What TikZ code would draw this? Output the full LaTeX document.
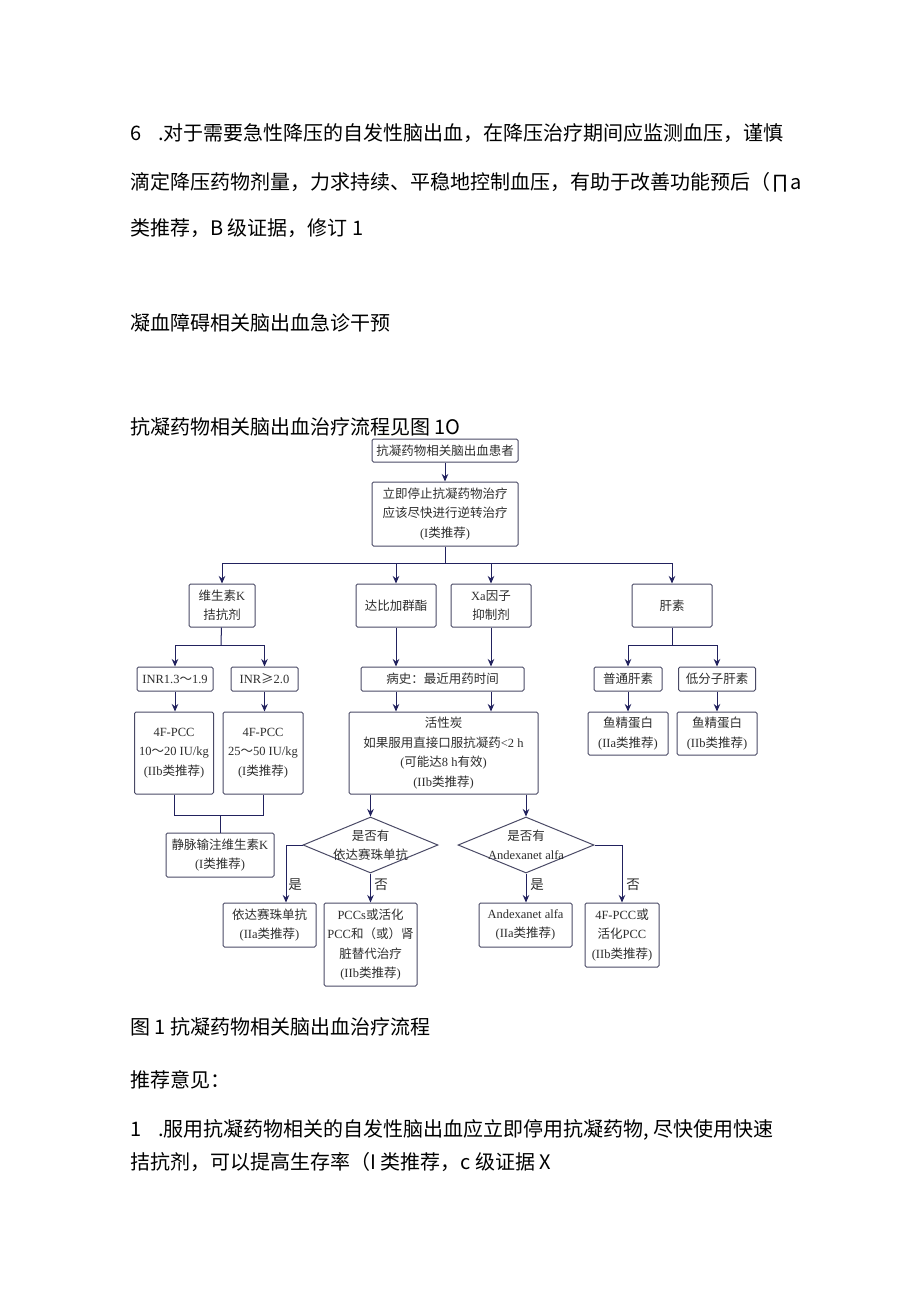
\documentclass[tikz,border=0pt]{standalone}
\usepackage{fontspec}
\usepackage{tikz}
\usetikzlibrary{shapes.geometric,arrows.meta,positioning,calc}
\setmainfont{Liberation Serif}
\newfontfamily\cjk{Noto Sans CJK SC}
\newfontfamily\latnfont{Liberation Serif}
\newcommand{\latn}[1]{{\latnfont #1}}
\definecolor{boxline}{HTML}{4A4A66}
\definecolor{flowline}{HTML}{22225E}
\definecolor{boxtext}{HTML}{2E2E2E}
\tikzset{flow box/.style={rectangle,draw=boxline,line width=1pt,rounded corners=1.5pt,inner sep=0pt,
                          align=center,text=boxtext,font=\fontsize{12.5}{19.5}\selectfont\cjk},
         flow dia/.style={diamond,draw=boxline,line width=1pt,inner sep=0pt},
         dia text/.style={inner sep=0pt,align=center,text=boxtext,font=\fontsize{12.5}{19}\selectfont\cjk},
         yes no/.style={inner sep=0pt,text=boxtext,font=\fontsize{13.5}{15}\selectfont\cjk},
         body text/.style={anchor=west,inner sep=0pt,font=\fontsize{20}{24}\selectfont\cjk},
         link/.style={draw=flowline,line width=1pt},
}

\begin{document}
\begin{tikzpicture}[x=1pt,y=-1pt,
>={Stealth[length=7.5pt,width=6.5pt]}]

\fill[white] (0,0) rectangle (920,1301);
\useasboundingbox (0,0) rectangle (920,1301);

% text above the chart
\node[body text] (p1) at (130,133) {6\hspace{17pt}.对于需要急性降压的自发性脑出血，在降压治疗期间应监测血压，谨慎};
\node[body text] (p2) at (130,182) {滴定降压药物剂量，力求持续、平稳地控制血压，有助于改善功能预后（∏a};
\node[body text] (p3) at (130,228) {类推荐，B 级证据，修订 1};
\node[body text] (h1) at (130,323) {凝血障碍相关脑出血急诊干预};
\node[body text] (h2) at (130,427) {抗凝药物相关脑出血治疗流程见图 1O};

% chart, top part
\node[flow box,minimum width=146pt,minimum height=23pt] (b0) at (445,450.5) {抗凝药物相关脑出血患者};
\node[flow box,minimum width=146pt,minimum height=64pt] (b1) at (445,514)
    {立即停止抗凝药物治疗\\应该尽快进行逆转治疗\\\latn{(I}类推荐\latn{)}};

\node[flow box,minimum width=66pt,minimum height=43pt] (vk) at (222,605.5) {维生素\latn{K}\\拮抗剂};
\node[flow box,minimum width=80pt,minimum height=43pt] (dab) at (396,605.5) {达比加群酯};
\node[flow box,minimum width=80pt,minimum height=43pt] (xa) at (491,605.5) {\latn{Xa}因子\\抑制剂};
\node[flow box,minimum width=80pt,minimum height=43pt] (hep) at (672,605.5) {肝素};

\coordinate (split_top) at (445,563);
\draw[link,->] (b0) -- (b1);
\draw[link] (b1) -- (split_top);
\draw[link,->] (split_top) -| (vk);
\draw[link,->] (split_top) -| (dab);
\draw[link,->] (split_top) -| (xa);
\draw[link,->] (split_top) -| (hep);

% vitamin K antagonist branch
\node[flow box,minimum width=76pt,minimum height=24pt] (inr_l) at (175,679) {\latn{INR1.3}～\latn{1.9}};
\node[flow box,minimum width=67pt,minimum height=24pt] (inr_h) at (264.5,679) {\latn{INR}≥\latn{2.0}};
\node[flow box,minimum width=79pt,minimum height=82pt] (pcc_l) at (174,753)
    {\latn{4F-PCC}\\\latn{10}～\latn{20 IU/kg}\\\latn{(IIb}类推荐\latn{)}};
\node[flow box,minimum width=80pt,minimum height=82pt] (pcc_h) at (263,753)
    {\latn{4F-PCC}\\\latn{25}～\latn{50 IU/kg}\\\latn{(I}类推荐\latn{)}};
\node[flow box,minimum width=108pt,minimum height=44pt] (vk_iv) at (220,855)
    {静脉输注维生素\latn{K}\\\latn{(I}类推荐\latn{)}};

\coordinate (vk_split) at (221,645);
\coordinate (vk_join) at (220,815);
\draw[link] (vk) -- (vk_split);
\draw[link,->] (vk_split) -| (inr_l);
\draw[link,->] (vk_split) -| (inr_h);
\draw[link,->] (inr_l) -- (pcc_l.north -| inr_l);
\draw[link,->] (inr_h) -- (pcc_h.north -| inr_h);
\draw[link] (pcc_l) |- (vk_join);
\draw[link] (pcc_h) |- (vk_join);
\draw[link] (vk_join) -- (vk_iv);

% dabigatran / Xa branch
\node[flow box,minimum width=163pt,minimum height=24pt] (hist) at (442.5,679) {病史：最近用药时间};
\node[flow box,minimum width=189pt,minimum height=82pt] (act) at (443.5,753)
    {活性炭\\如果服用直接口服抗凝药\latn{<2 h}\\\latn{(}可能达\latn{8 h}有效\latn{)}\\\latn{(IIb}类推荐\latn{)}};

\draw[link,->] (dab) -- (dab |- hist.north);
\draw[link,->] (xa) -- (xa |- hist.north);
\draw[link,->] (dab |- hist.south) -- (dab |- act.north);
\draw[link,->] (xa |- hist.south) -- (xa |- act.north);

\node[flow dia,minimum width=135pt,minimum height=56pt] (dia_l) at (370.5,845) {};
\node[dia text] (dia_l_t) at (dia_l) {是否有\\依达赛珠单抗};
\node[flow dia,minimum width=136pt,minimum height=56pt] (dia_r) at (526,845) {};
\node[dia text] (dia_r_t) at (dia_r) {是否有\\\latn{Andexanet alfa}};

\draw[link,->] (act.south -| dia_l) -- (dia_l.north);
\draw[link,->] (act.south -| dia_r) -- (dia_r.north);

\node[flow box,minimum width=93pt,minimum height=44pt] (ida) at (269.5,925)
    {依达赛珠单抗\\\latn{(IIa}类推荐\latn{)}};
\node[flow box,minimum width=93pt,minimum height=83pt] (pcc_r) at (370.5,944.5)
    {\latn{PCCs}或活化\\\latn{PCC}和（或）肾\\脏替代治疗\\\latn{(IIb}类推荐\latn{)}};
\node[flow box,minimum width=93pt,minimum height=44pt] (andex) at (525.5,925)
    {\latn{Andexanet alfa}\\\latn{(IIa}类推荐\latn{)}};
\node[flow box,minimum width=74pt,minimum height=64pt] (pcc4) at (622,935)
    {\latn{4F-PCC}或\\活化\latn{PCC}\\\latn{(IIb}类推荐\latn{)}};

\draw[link,->] (dia_l.west) -| ([xshift=16.5pt]ida.north);
\draw[link,->] (dia_l.south) -- (pcc_r.north -| dia_l);
\draw[link,->] (dia_r.south) -- (andex.north -| dia_r);
\draw[link,->] (dia_r.east) -| (pcc4);

\node[yes no] (yes_l) at (295,885) {是};
\node[yes no] (no_l) at (381,885) {否};
\node[yes no] (yes_r) at (537,885) {是};
\node[yes no] (no_r) at (633,885) {否};

% heparin branch
\node[flow box,minimum width=68pt,minimum height=24pt] (uh) at (628,679) {普通肝素};
\node[flow box,minimum width=77pt,minimum height=24pt] (lmwh) at (717,679) {低分子肝素};
\node[flow box,minimum width=80pt,minimum height=43pt] (prot_a) at (628,733.5) {鱼精蛋白\\\latn{(IIa}类推荐\latn{)}};
\node[flow box,minimum width=80pt,minimum height=43pt] (prot_b) at (717,733.5) {鱼精蛋白\\\latn{(IIb}类推荐\latn{)}};

\coordinate (hep_split) at (672,645);
\draw[link] (hep) -- (hep_split);
\draw[link,->] (hep_split) -| (uh);
\draw[link,->] (hep_split) -| (lmwh);
\draw[link,->] (uh) -- (prot_a);
\draw[link,->] (lmwh) -- (prot_b);

% text below the chart
\node[body text] (cap) at (130,1027) {图 1 抗凝药物相关脑出血治疗流程};
\node[body text] (rec) at (130,1080) {推荐意见：};
\node[body text] (r1) at (130,1130) {1\hspace{17pt}.服用抗凝药物相关的自发性脑出血应立即停用抗凝药物, 尽快使用快速};
\node[body text] (r2) at (130,1162) {拮抗剂，可以提高生存率（I 类推荐，c 级证据 X};

\end{tikzpicture}
\end{document}
